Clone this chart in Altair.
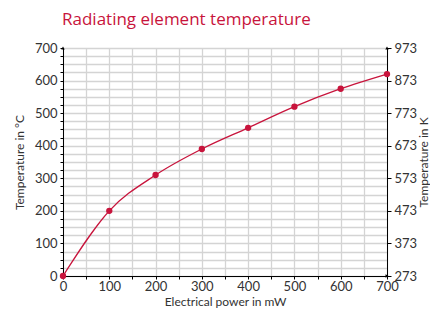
import altair as alt
import pandas as pd

power = [0, 100, 200, 300, 400, 500, 600, 700]
temp_c = [0, 200, 310, 390, 455, 520, 575, 620]
kelvin_ticks = [273, 373, 473, 573, 673, 773, 873, 973]

red = "#c8143c"
font = "Lato"

df = pd.DataFrame({"p": power, "t": temp_c})
arrows = pd.DataFrame({"p": [0, 700, 700], "t": [700, 700, 0],
                       "s": ["triangle-up", "triangle-up", "triangle-right"]})

common = dict(domainColor="#000", tickColor="#000", labelFontSize=13, labelColor="#333",
              titleFontSize=12, titleFontWeight="normal", titleColor="#333",
              labelFont=font, titleFont=font)

xaxis = alt.Axis(values=list(range(0, 701, 50)),
                 labelExpr="datum.value % 100 == 0 ? datum.label : ''",
                 title="Electrical power in mW", grid=True, gridColor="#d4d4d4",
                 gridWidth=1.3, tickSize=3, titlePadding=3, labelPadding=1,
                 labelFlush=False, **common)
yaxis = alt.Axis(values=list(range(0, 701, 25)),
                 labelExpr="datum.value % 100 == 0 ? datum.label : ''",
                 title="Temperature in °C", grid=True, gridColor="#d4d4d4",
                 gridWidth=1.3, tickSize=3, titlePadding=8, labelPadding=3, **common)

x = alt.X("p:Q", scale=alt.Scale(domain=[0, 700], nice=False), axis=xaxis)
y = alt.Y("t:Q", scale=alt.Scale(domain=[0, 700], nice=False), axis=yaxis)

line = alt.Chart(df).mark_line(color=red, strokeWidth=1.3, interpolate="monotone").encode(x=x, y=y)
pts = alt.Chart(df).mark_circle(color=red, size=40, opacity=1).encode(x=x, y=y)
arr = alt.Chart(arrows).mark_point(filled=True, color="#000", size=12, opacity=1).encode(
    x=x, y=y, shape=alt.Shape("s:N", scale=None))

main = alt.layer(line, pts, arr)

kelvin = alt.Chart(pd.DataFrame({"k": kelvin_ticks})).mark_point(opacity=0).encode(
    y=alt.Y("k:Q", scale=alt.Scale(domain=[273, 973], nice=False),
            axis=alt.Axis(orient="right", values=kelvin_ticks,
                          title="Temperature in K", grid=False, tickSize=4,
                          titleAngle=270, titleBaseline="top", titlePadding=2,
                          labelPadding=3, **common)))

chart = alt.layer(main, kelvin).resolve_scale(y="independent").properties(
    width=324, height=228,
    title=alt.TitleParams("Radiating element temperature", anchor="start", frame="group",
                          color=red, fontSize=17, fontWeight="normal", font="Open Sans",
                          offset=13, dx=-1),
    autosize=alt.AutoSizeParams(type="none"),
    padding={"left": 55, "top": 40, "right": 43, "bottom": 32},
).configure_view(stroke=None)

chart.save("out.html", embed_options={"renderer": "svg", "actions": False})
